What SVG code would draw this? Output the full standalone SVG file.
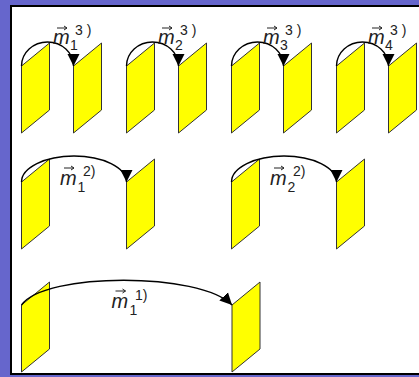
<svg xmlns="http://www.w3.org/2000/svg" width="419" height="377" viewBox="0 0 419 377">
<style>
.panel{fill:#ffff00;stroke:#333;stroke-width:1}
.arc{fill:none;stroke:#000;stroke-width:1.4}
.m{font-family:"Liberation Sans",Arial,sans-serif;font-style:italic;font-size:20px;fill:#222}
.d{font-family:"Liberation Sans",Arial,sans-serif;font-size:14px;fill:#222}
.vec{fill:none;stroke:#222;stroke-width:1}
</style>
<defs>
<path id="pan" d="M0,23 L28,0 L28,67 L0,90 Z"/>
<marker id="ah" markerUnits="userSpaceOnUse" markerWidth="14" markerHeight="14" refX="12" refY="6" orient="auto" viewBox="0 0 14 12">
<path d="M0,0 L12,6 L0,12 Z" fill="#000"/>
</marker>
<path id="va" d="M0,0 L10,0 M7,-2 L10,0 L7,2"/>
</defs>
<rect x="0" y="0" width="419" height="377" fill="#6666cc"/>
<rect x="11" y="6" width="420" height="368" fill="#fff" stroke="#000" stroke-width="2"/>

<g id="row1">
<g id="p1a"><use href="#pan" class="panel" x="21.5" y="43"/></g>
<g id="p1b"><use href="#pan" class="panel" x="73.5" y="43"/></g>
<g id="p2a"><use href="#pan" class="panel" x="126.5" y="43"/></g>
<g id="p2b"><use href="#pan" class="panel" x="178.5" y="43"/></g>
<g id="p3a"><use href="#pan" class="panel" x="231.5" y="43"/></g>
<g id="p3b"><use href="#pan" class="panel" x="283.5" y="43"/></g>
<g id="p4a"><use href="#pan" class="panel" x="336.5" y="43"/></g>
<g id="p4b"><use href="#pan" class="panel" x="388.5" y="43"/></g>
</g>
<g id="row2">
<g id="q1a"><use href="#pan" class="panel" x="21.5" y="159"/></g>
<g id="q1b"><use href="#pan" class="panel" x="126.5" y="159"/></g>
<g id="q2a"><use href="#pan" class="panel" x="231.5" y="159"/></g>
<g id="q2b"><use href="#pan" class="panel" x="336.5" y="159"/></g>
</g>
<g id="row3">
<g id="r1a"><use href="#pan" class="panel" x="21.5" y="282"/></g>
<g id="r1b"><use href="#pan" class="panel" x="232" y="282"/></g>
</g>

<g id="connectors" class="arc" marker-end="url(#ah)">
<path d="M21.5,66 A26,24 0 0 1 73.5,66"/>
<path d="M126.5,66 A26,24 0 0 1 178.5,66"/>
<path d="M231.5,66 A26,24 0 0 1 283.5,66"/>
<path d="M336.5,66 A26,24 0 0 1 388.5,66"/>
<path d="M21.5,182 A52.5,26 0 0 1 126.5,182"/>
<path d="M231.5,182 A52.5,26 0 0 1 336.5,182"/>
<path d="M21.5,305 C45,272 200,272 232,305"/>
</g>

<g id="labels">
<g id="l13"><text class="m" x="53" y="44">m</text><use href="#va" class="vec" x="57" y="28"/><text class="d" x="70" y="50">1</text><text class="d" x="75" y="35">3 )</text></g>
<g id="l23"><text class="m" x="158" y="44">m</text><use href="#va" class="vec" x="162" y="28"/><text class="d" x="175" y="50">2</text><text class="d" x="180" y="35">3 )</text></g>
<g id="l33"><text class="m" x="263" y="44">m</text><use href="#va" class="vec" x="267" y="28"/><text class="d" x="280" y="50">3</text><text class="d" x="285" y="35">3 )</text></g>
<g id="l43"><text class="m" x="368" y="44">m</text><use href="#va" class="vec" x="372" y="28"/><text class="d" x="385" y="50">4</text><text class="d" x="390" y="35">3 )</text></g>
<g id="l12"><text class="m" x="60" y="185">m</text><use href="#va" class="vec" x="64" y="168"/><text class="d" x="77.5" y="192">1</text><text class="d" x="83" y="176">2)</text></g>
<g id="l22"><text class="m" x="270" y="185">m</text><use href="#va" class="vec" x="274" y="168"/><text class="d" x="287.5" y="192">2</text><text class="d" x="293" y="176">2)</text></g>
<g id="l11"><text class="m" x="111.5" y="308">m</text><use href="#va" class="vec" x="115.5" y="291"/><text class="d" x="129.5" y="315">1</text><text class="d" x="135" y="300">1)</text></g>
</g>
</svg>
